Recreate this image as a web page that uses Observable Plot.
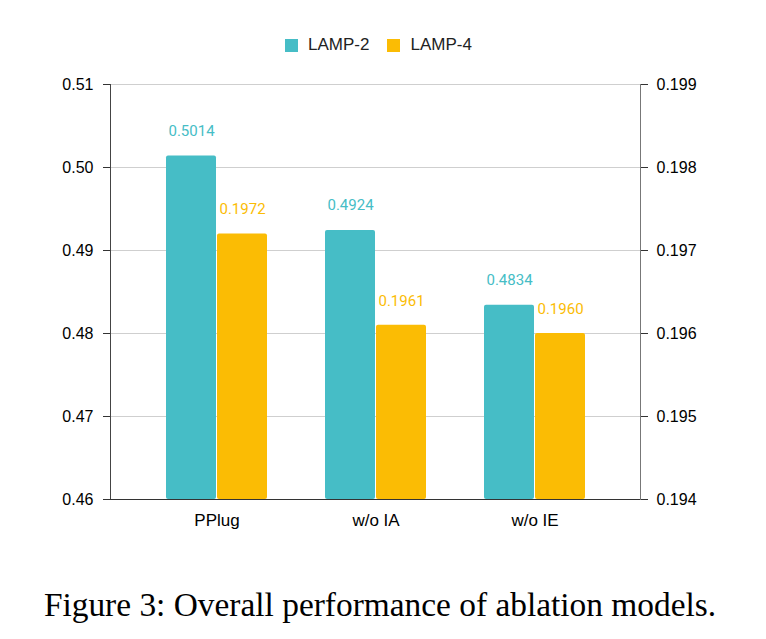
<!DOCTYPE html>
<html><head><meta charset="utf-8">
<script src="https://cdn.jsdelivr.net/npm/d3@7"></script>
<script src="https://cdn.jsdelivr.net/npm/@observablehq/plot@0.6"></script>
<style>
body{margin:0;background:#fff;width:766px;height:639px;overflow:hidden;position:relative;font-family:"Liberation Sans",Arial,sans-serif;}
#legend{position:absolute;left:285px;top:35px;display:flex;align-items:center;font-size:17px;color:#222;}
#legend .item{display:flex;align-items:center;margin-right:18px;}
#legend .sw{width:13px;height:13px;margin-right:10px;}
#chart{position:absolute;left:0;top:64px;}
#caption{position:absolute;left:0;width:760px;top:585px;text-align:center;font-family:"Liberation Serif","Times New Roman",serif;font-size:33.4px;color:#000;line-height:40px;white-space:nowrap;}
</style></head><body>
<div id="legend"></div>
<div id="chart"></div>
<div id="caption">Figure 3: Overall performance of ablation models.</div>
<script>
const categories = ["PPlug", "w/o IA", "w/o IE"];
const series = ["LAMP-2", "LAMP-4"];
const lamp2 = [0.5014, 0.4924, 0.4834];
const lamp4 = [0.1972, 0.1961, 0.1960];
const leftTicks = [0.46, 0.47, 0.48, 0.49, 0.50, 0.51];
const rightTicks = [0.194, 0.195, 0.196, 0.197, 0.198, 0.199];
const colors = ["#46BDC6", "#FBBC04"];

const lMin = leftTicks[0], lMax = leftTicks[leftTicks.length - 1];
const rMin = rightTicks[0], rMax = rightTicks[rightTicks.length - 1];
const toLeft = v => lMin + (v - rMin) * (lMax - lMin) / (rMax - rMin);
const fromLeft = v => rMin + (v - lMin) * (rMax - rMin) / (lMax - lMin);

const d2 = categories.map((c, i) => ({cat: c, v: lamp2[i], y: lamp2[i], label: lamp2[i].toFixed(4)}));
const d4 = categories.map((c, i) => ({cat: c, v: lamp4[i], y: toLeft(lamp4[i]), label: lamp4[i].toFixed(4)}));

const leg = document.getElementById("legend");
series.forEach((s, i) => {
  const it = document.createElement("div"); it.className = "item";
  it.innerHTML = `<div class="sw" style="background:${colors[i]}"></div><span>${s}</span>`;
  leg.appendChild(it);
});

const chart = Plot.plot({
  width: 766, height: 480,
  marginTop: 20, marginLeft: 110, marginRight: 126, marginBottom: 45,
  x: {domain: categories, paddingInner: 0.365, paddingOuter: 0.349, label: null},
  y: {domain: [lMin, lMax], label: null},
  style: {fontFamily: "'Liberation Sans', Arial, sans-serif", fontSize: "16px", color: "#000", background: "#fff"},
  marks: [
    Plot.gridY(leftTicks, {stroke: "#cfcfcf", strokeOpacity: 1}),
    Plot.barY(d2, {x: "cat", y1: lMin, y2: "y", fill: colors[0], insetRight: 51, rx: 2}),
    Plot.barY(d4, {x: "cat", y1: lMin, y2: "y", fill: colors[1], insetLeft: 51, rx: 2}),
    Plot.text(d2, {x: "cat", y: "y", text: "label", dx: -25.5, dy: -25, fill: colors[0], fontSize: 15, fontFamily: "Roboto"}),
    Plot.text(d4, {x: "cat", y: "y", text: "label", dx: 25.5, dy: -24.5, fill: colors[1], fontSize: 15, fontFamily: "Roboto"}),
    Plot.axisY(leftTicks, {anchor: "left", tickSize: 7, tickPadding: 10, stroke: "#333", tickFormat: d => d.toFixed(2), fontSize: 16, label: null}),
    Plot.axisY(rightTicks.map(toLeft), {anchor: "right", tickSize: 7, tickPadding: 9, stroke: "#333", tickFormat: d => fromLeft(d).toFixed(3), fontSize: 16, label: null}),
    Plot.axisX({tickSize: 0, tickPadding: 14, fontSize: 17, label: null}),
    Plot.frame({anchor: "left", stroke: "#444"}),
    Plot.frame({anchor: "right", stroke: "#777"}),
    Plot.ruleY([lMin], {stroke: "#333"})
  ]
});
document.getElementById("chart").appendChild(chart);
</script>
</body></html>
